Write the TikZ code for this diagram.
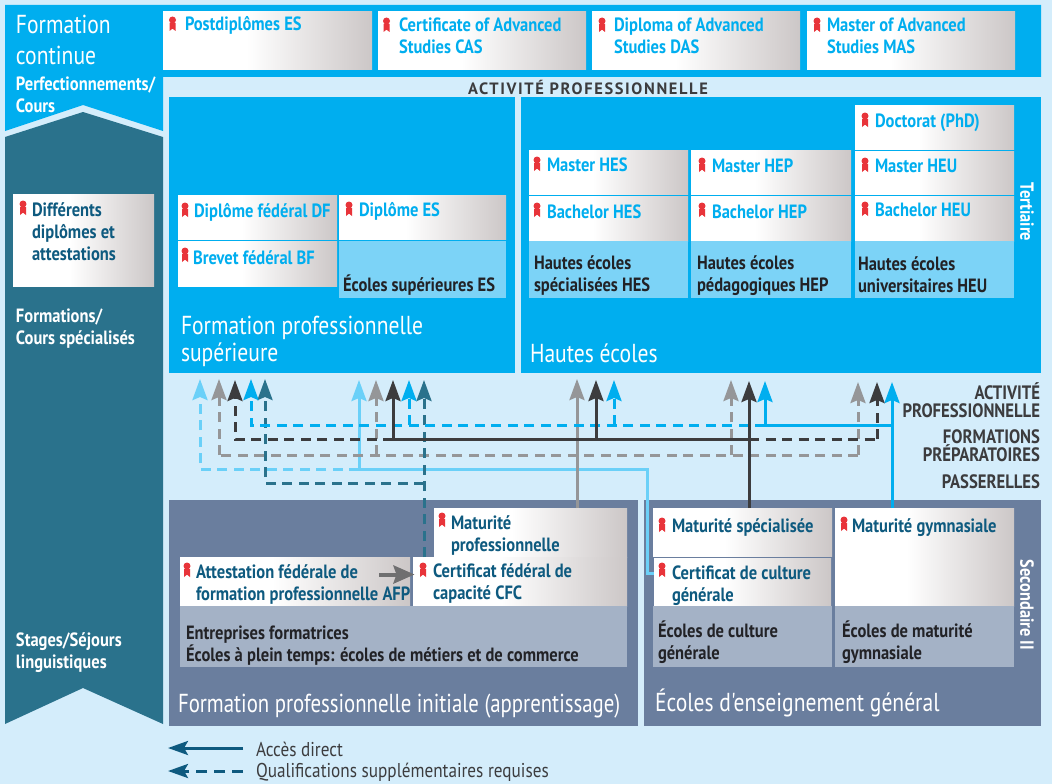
\documentclass[tikz,border=0pt]{standalone}
\usepackage{fontspec}
\setmainfont{PT Sans}
\newfontfamily\condfont[FakeStretch=0.86]{PT Sans}
\newfontfamily\headfont[FakeStretch=0.83]{PT Sans}
\newfontfamily\headnarrow[FakeStretch=0.80]{PT Sans}
\newfontfamily\spacedfont[LetterSpace=10]{PT Sans}
\usetikzlibrary{arrows.meta}
\definecolor{bgc}{HTML}{D4EDFB}
\definecolor{topblue}{HTML}{00AEEF}
\definecolor{tealc}{HTML}{2A728C}
\definecolor{slatec}{HTML}{6A7E9E}
\definecolor{paleslate}{HTML}{A4B2C6}
\definecolor{paleblue}{HTML}{7CD3F7}
\definecolor{navyc}{HTML}{0E5A7F}
\definecolor{darkc}{HTML}{3C3C3E}
\definecolor{greyc}{HTML}{959698}
\definecolor{lightc}{HTML}{6AD0F8}
\definecolor{medalc}{HTML}{E8343A}
\definecolor{inkc}{HTML}{222226}
\definecolor{afpc}{HTML}{6F6F70}
\pgfdeclarehorizontalshading{boxsh}{100bp}{rgb(0bp)=(1,1,1);rgb(45bp)=(1,1,1);rgb(75bp)=(0.80,0.78,0.78);rgb(100bp)=(0.80,0.78,0.78)}
\tikzset{
 x=1pt,y=-1pt,
 boxa/.style={rectangle,draw=none,inner sep=0pt,outer sep=0pt,anchor=north west},
 shaded box/.style={boxa,shading=boxsh},
 plain box/.style={boxa,fill=#1},
 txt/.style={inner sep=0pt,outer sep=0pt,anchor=base west,align=left,font=\condfont\bfseries\fontsize{19.2}{22}\selectfont},
 bluet/.style={txt,text=topblue},
 navyt/.style={txt,text=navyc},
 inkt/.style={txt,text=inkc},
 whitet/.style={txt,text=white},
 head/.style={inner sep=0pt,outer sep=0pt,anchor=base west,align=left,text=white,font=\headfont\fontsize{26}{31}\selectfont},
 rlab/.style={inner sep=0pt,outer sep=0pt,anchor=base east,text=darkc,font=\condfont\bfseries\fontsize{19.4}{18}\selectfont},
 tip/.style={-{Stealth[length=21pt,width=15pt,inset=3pt]}},
 conn/.style={line width=3pt,line join=miter},
 dsh/.style={conn,dash pattern=on 10pt off 6.5pt},
 medal/.pic={
  \fill[medalc] (0,0) circle (3.5);
  \fill[medalc] (-3,3) -- (3,3) -- (3,11) -- (0,8.6) -- (-3,11) -- cycle;
 },
}
\newcommand\BX[6]{\node[#1,minimum width={(#5-#3)*1pt},minimum height={(#6-#4)*1pt}] (#2) at (#3,#4) {};}
\newcommand\TX[5]{\node[#1] (#2) at (#3,{#4+7}) {#5};}
\newcommand\HX[5]{\node[#1] (#2) at (#3,{#4+9}) {#5};}
\newcommand\MD[2]{\pic at (#1,{#2-4}) {medal};}
\begin{document}
\begin{tikzpicture}
\useasboundingbox (0,0) rectangle (1052,784);
\fill[bgc] (0,0) rectangle (1052,784);
% top band
\fill[topblue] (5,5) -- (1041,5) -- (1041,77) -- (163,77) -- (163,131) -- (83,105) -- (5,131) -- cycle;
% teal banner
\fill[tealc] (5,137) -- (83,112) -- (163,137) -- (163,724) -- (83,688) -- (5,724) -- cycle;
% large panels
\BX{plain box=topblue}{phs}{169}{97}{515}{373}
\BX{plain box=topblue}{hes}{521}{97}{1041}{373}
\BX{plain box=slatec}{fpi}{169}{500}{638}{726}
\BX{plain box=slatec}{eeg}{644}{500}{1041}{726}
% top boxes
\BX{shaded box}{post}{163}{12}{372}{70}
\BX{shaded box}{cas}{378}{12}{586}{70}
\BX{shaded box}{das}{592}{12}{800}{70}
\BX{shaded box}{mas}{807}{12}{1015}{70}
\BX{shaded box}{diff}{13}{194}{154}{286}
% ES
\BX{shaded box}{df}{178}{195}{337}{239.7}
\BX{shaded box}{bf}{178}{241}{337}{286}
\BX{shaded box}{des}{339}{195}{506}{239.7}
\BX{plain box=paleblue}{ees}{339}{241}{506}{298}
% hautes ecoles
\BX{shaded box}{mhes}{529}{150}{688}{194.8}
\BX{shaded box}{bhes}{529}{196}{688}{241}
\BX{plain box=paleblue}{ehes}{529}{241}{688}{298}
\BX{shaded box}{mhep}{691}{150}{851}{194.8}
\BX{shaded box}{bhep}{691}{196}{851}{241}
\BX{plain box=paleblue}{ehep}{691}{241}{851}{298}
\BX{shaded box}{phd}{855}{105}{1014}{149.8}
\BX{shaded box}{mheu}{855}{151}{1014}{194.8}
\BX{shaded box}{bheu}{855}{196}{1014}{241}
\BX{plain box=paleblue}{eheu}{855}{241}{1014}{298}
% secondaire
\BX{shaded box}{mprof}{434}{508}{627}{557}
\BX{shaded box}{afp}{180}{557}{410}{606}
\BX{shaded box}{cfc}{413}{557}{627}{606}
\BX{plain box=paleslate}{ent}{180}{606}{627}{667}
\BX{shaded box}{mspe}{653}{508}{832}{556.8}
\BX{shaded box}{ccg}{654}{558}{831}{606}
\BX{shaded box}{mgym}{835}{508}{1014}{606}
\BX{plain box=paleslate}{ecg}{653}{606}{832}{667}
\BX{plain box=paleslate}{emg}{835}{606}{1014}{667}
% connector coordinates
\coordinate (ta1) at (200,379); \coordinate (tg1) at (219,379); \coordinate (td1) at (235,380); \coordinate (tb1) at (251,379); \coordinate (tt1) at (265,379);
\coordinate (ta2) at (359,380); \coordinate (tg2) at (376,380); \coordinate (td2) at (393,380); \coordinate (tb2) at (409,380); \coordinate (tt2) at (424,380);
\coordinate (tg3) at (577,379); \coordinate (td3) at (596,380); \coordinate (tb3) at (614,380);
\coordinate (tg4) at (731,380); \coordinate (td4) at (749,381); \coordinate (tb4) at (765,381);
\coordinate (tg5) at (858,382); \coordinate (td5) at (877,382); \coordinate (tb5) at (892,382);
\coordinate (yb) at (0,425); \coordinate (yd) at (0,439); \coordinate (yg) at (0,455); \coordinate (yl) at (0,469); \coordinate (yt) at (0,483);
% light blue
\draw[dsh,lightc,tip] (ta2 |- yl) -- (ta1 |- yl) -- (ta1);
\draw[conn,lightc,tip] (ta2 |- yl) -- (ta2);
\draw[conn,lightc] (ta2 |- yl) -- (647,469) -- (647,573) -- (ccg.west |- 0,573);
% grey
\draw[dsh,greyc,tip] (tg5 |- yg) -- (tg5);
\draw[dsh,greyc] (tg5 |- yg) -- (tg1 |- yg);
\draw[dsh,greyc,tip] (tg1 |- yg) -- (tg1);
\draw[dsh,greyc,tip] (tg2 |- yg) -- (tg2);
\draw[dsh,greyc,tip] (tg4 |- yg) -- (tg4);
\draw[conn,greyc,tip] (mprof.north -| tg3) -- (tg3);
% teal
\draw[dsh,tealc,tip] (cfc.north -| tt2) -- (tt2);
\draw[dsh,tealc,tip] (tt2 |- yt) -- (tt1 |- yt) -- (tt1);
% blue
\draw[dsh,topblue,tip] (tb4 |- yb) -- (tb1 |- yb) -- (tb1);
\draw[dsh,topblue,tip] (tb2 |- yb) -- (tb2);
\draw[dsh,topblue,tip] (tb3 |- yb) -- (tb3);
\draw[conn,topblue,tip] (tb5 |- yb) -- (tb4 |- yb) -- (tb4);
\draw[conn,topblue,tip] (mgym.north -| tb5) -- (tb5);
% dark
\draw[dsh,darkc,tip] (td2 |- yd) -- (td1 |- yd) -- (td1);
\draw[conn,darkc] (td2 |- yd) -- (td4 |- yd);
\draw[conn,darkc,tip] (td2 |- yd) -- (td2);
\draw[conn,darkc,tip] (td3 |- yd) -- (td3);
\draw[conn,darkc,tip] (mspe.north -| td4) -- (td4);
\draw[dsh,darkc] (td4 |- yd) -- (td5 |- yd);
\draw[dsh,darkc,tip] (td5 |- yd) -- (td5);
% medals
\MD{172.5}{24}\MD{386.5}{25}\MD{602}{25}\MD{817}{25}
\MD{23}{208}\MD{185}{210}\MD{185}{255}\MD{349}{209}
\MD{537}{164}\MD{537}{210}\MD{702}{165}\MD{702}{210}
\MD{865}{120}\MD{865}{165}\MD{865}{209}
\MD{442}{520}\MD{187}{570}\MD{423}{570}
\MD{662}{525}\MD{662}{570}\MD{844}{524}
% texts
\HX{head}{lfc}{16}{55}{Formation\\continue}
\TX{whitet}{lperf}{16}{105}{Perfectionnements/\\Cours}
\TX{bluet}{tpost}{185}{24}{Postdiplômes ES}
\TX{bluet}{tcas}{399}{47}{Certificate of Advanced\\Studies CAS}
\TX{bluet}{tdas}{614}{47}{Diploma of Advanced\\Studies DAS}
\TX{bluet}{tmas}{827}{47}{Master of Advanced\\Studies MAS}
\node[inner sep=0pt,outer sep=0pt,text=darkc,font=\spacedfont\bfseries\fontsize{16.4}{15}\selectfont] (tact) at (588,87) {ACTIVITÉ PROFESSIONNELLE};
\TX{navyt}{tdiff}{32}{253}{Différents\\diplômes et\\attestations}
\TX{whitet}{lform}{16}{337}{Formations/\\Cours spécialisés}
\TX{whitet}{lstage}{16}{661}{Stages/Séjours\\linguistiques}
\TX{bluet}{tdf}{194}{210}{Diplôme fédéral DF}
\TX{bluet}{tbf}{193}{257}{Brevet fédéral BF}
\TX{bluet}{tdes}{359}{209}{Diplôme ES}
\TX{inkt}{tees}{343}{284}{Écoles supérieures ES}
\HX{head}{lphs}{181}{352}{Formation professionnelle\\[-4pt]supérieure}
\HX{head}{lhes}{530}{353}{Hautes écoles}
\TX{bluet}{tmhes}{547}{164}{Master HES}
\TX{bluet}{tbhes}{547}{211}{Bachelor HES}
\TX{inkt}{tehes}{534}{284}{Hautes écoles\\spécialisées HES}
\TX{bluet}{tmhep}{712}{165}{Master HEP}
\TX{bluet}{tbhep}{712}{211}{Bachelor HEP}
\TX{inkt}{tehep}{697}{284}{Hautes écoles\\pédagogiques HEP}
\TX{bluet}{tphd}{875}{120}{Doctorat (PhD)}
\TX{bluet}{tmheu}{875}{165}{Master HEU}
\TX{bluet}{tbheu}{875}{209}{Bachelor HEU}
\TX{inkt}{teheu}{858}{285}{Hautes écoles\\universitaires HEU}
\node[rlab] (ra1) at (1040,399) {ACTIVITÉ};
\node[rlab] (ra2) at (1040,417) {PROFESSIONNELLE};
\node[rlab] (ra3) at (1040,443) {FORMATIONS};
\node[rlab] (ra4) at (1040,461) {PRÉPARATOIRES};
\node[rlab] (ra5) at (1040,488) {PASSERELLES};
\TX{navyt}{tmprof}{451}{544}{Maturité\\professionnelle}
\TX{navyt}{tafp}{196}{593}{Attestation fédérale de\\formation professionnelle AFP}
\TX{navyt}{tcfc}{433}{592}{Certificat fédéral de\\capacité CFC}
\TX{inkt}{tent}{186}{654}{Entreprises formatrices\\Écoles à plein temps: écoles de métiers et de commerce}
\HX{head,font=\headnarrow\fontsize{26}{31}\selectfont}{lfpi}{178}{703}{Formation professionnelle initiale (apprentissage)}
\HX{head}{leeg}{655}{702}{Écoles d'enseignement général}
\TX{navyt}{tmspe}{672}{525}{Maturité spécialisée}
\TX{navyt}{tccg}{672}{594}{Certificat de culture\\générale}
\TX{navyt}{tmgym}{852}{525}{Maturité gymnasiale}
\TX{inkt}{tecg}{658}{652}{Écoles de culture\\générale}
\TX{inkt}{temg}{842}{652}{Écoles de maturité\\gymnasiale}
\node[inner sep=0pt,rotate=-90,text=white,font=\condfont\bfseries\fontsize{19}{18}\selectfont] (lter) at (1027,212) {Tertiaire};
\node[inner sep=0pt,rotate=-90,text=white,font=\condfont\bfseries\fontsize{19}{18}\selectfont] (lsec) at (1027,605) {Secondaire II};
% AFP to CFC (over the text of the AFP box)
\coordinate (afparrow) at (379,574.5);
\draw[line width=4pt,afpc,-{Stealth[length=21pt,width=18pt,inset=3pt]}] (afparrow) -- ([xshift=1.5pt]cfc.west |- afparrow);
% legend
\coordinate (lga) at (243,748); \coordinate (lgb) at (168,748);
\coordinate (lgc) at (243,771); \coordinate (lgd) at (168,771);
\draw[line width=3pt,navyc,-{Stealth[length=20pt,width=14pt,inset=4pt]}] (lga) -- (lgb);
\draw[line width=3pt,navyc,dash pattern=on 11pt off 7pt,-{Stealth[length=20pt,width=14pt,inset=4pt]}] (lgc) -- (lgd);
\node[inner sep=0pt,outer sep=0pt,anchor=base west,text=darkc,font=\condfont\fontsize{20}{22}\selectfont] (tlg1) at (256,756) {Accès direct};
\node[inner sep=0pt,outer sep=0pt,anchor=base west,text=darkc,font=\condfont\fontsize{20}{22}\selectfont] (tlg2) at (256,777) {Qualifications supplémentaires requises};
\end{tikzpicture}
\end{document}
